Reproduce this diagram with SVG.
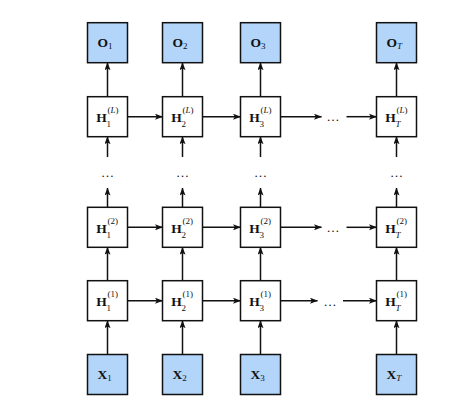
<svg xmlns="http://www.w3.org/2000/svg" width="460" height="408" viewBox="0 0 460 408">
<style>
.box{stroke:#111;stroke-width:1.5;}
.in{fill:#b3d5fa;}
.hid{fill:#ffffff;}
.cn line{stroke:#111;stroke-width:1.5;}
text{font-family:"Liberation Serif","Times New Roman",serif;fill:#111;}
.m{font-size:13.5px;font-weight:bold;}
.s{font-size:9px;}
.i{font-style:italic;}
.d{font-size:13px;text-anchor:middle;}
</style>
<defs>
<marker id="ah" viewBox="0 0 8 6" refX="7.5" refY="3" markerWidth="8" markerHeight="6" markerUnits="userSpaceOnUse" orient="auto">
<path d="M0,0 L8,3 L0,6 L1.8,3 z" fill="#111"/>
</marker>
</defs>
<rect width="460" height="408" fill="#ffffff"/>

<g id="connectors" class="cn">
<line x1="107.5" y1="96.7" x2="107.5" y2="62.7" marker-end="url(#ah)"/>
<line x1="182.5" y1="96.7" x2="182.5" y2="62.7" marker-end="url(#ah)"/>
<line x1="260.5" y1="96.7" x2="260.5" y2="62.7" marker-end="url(#ah)"/>
<line x1="396.5" y1="96.7" x2="396.5" y2="62.7" marker-end="url(#ah)"/>
<line x1="107.5" y1="157" x2="107.5" y2="136.7" marker-end="url(#ah)"/>
<line x1="182.5" y1="157" x2="182.5" y2="136.7" marker-end="url(#ah)"/>
<line x1="260.5" y1="157" x2="260.5" y2="136.7" marker-end="url(#ah)"/>
<line x1="396.5" y1="157" x2="396.5" y2="136.7" marker-end="url(#ah)"/>
<line x1="107.5" y1="207.3" x2="107.5" y2="188" marker-end="url(#ah)"/>
<line x1="182.5" y1="207.3" x2="182.5" y2="188" marker-end="url(#ah)"/>
<line x1="260.5" y1="207.3" x2="260.5" y2="188" marker-end="url(#ah)"/>
<line x1="396.5" y1="207.3" x2="396.5" y2="188" marker-end="url(#ah)"/>
<line x1="107.5" y1="280.7" x2="107.5" y2="247.3" marker-end="url(#ah)"/>
<line x1="182.5" y1="280.7" x2="182.5" y2="247.3" marker-end="url(#ah)"/>
<line x1="260.5" y1="280.7" x2="260.5" y2="247.3" marker-end="url(#ah)"/>
<line x1="396.5" y1="280.7" x2="396.5" y2="247.3" marker-end="url(#ah)"/>
<line x1="107.5" y1="354.5" x2="107.5" y2="320.7" marker-end="url(#ah)"/>
<line x1="182.5" y1="354.5" x2="182.5" y2="320.7" marker-end="url(#ah)"/>
<line x1="260.5" y1="354.5" x2="260.5" y2="320.7" marker-end="url(#ah)"/>
<line x1="396.5" y1="354.5" x2="396.5" y2="320.7" marker-end="url(#ah)"/>
<line x1="127.5" y1="116.7" x2="162.5" y2="116.7" marker-end="url(#ah)"/>
<line x1="202.5" y1="116.7" x2="240.5" y2="116.7" marker-end="url(#ah)"/>
<line x1="280.5" y1="116.7" x2="321.5" y2="116.7" marker-end="url(#ah)"/>
<line x1="346.5" y1="116.7" x2="376.5" y2="116.7" marker-end="url(#ah)"/>
<line x1="127.5" y1="227.3" x2="162.5" y2="227.3" marker-end="url(#ah)"/>
<line x1="202.5" y1="227.3" x2="240.5" y2="227.3" marker-end="url(#ah)"/>
<line x1="280.5" y1="227.3" x2="321.5" y2="227.3" marker-end="url(#ah)"/>
<line x1="346.5" y1="227.3" x2="376.5" y2="227.3" marker-end="url(#ah)"/>
<line x1="127.5" y1="300.7" x2="162.5" y2="300.7" marker-end="url(#ah)"/>
<line x1="202.5" y1="300.7" x2="240.5" y2="300.7" marker-end="url(#ah)"/>
<line x1="280.5" y1="300.7" x2="317.5" y2="300.7" marker-end="url(#ah)"/>
<line x1="343" y1="300.7" x2="376.5" y2="300.7" marker-end="url(#ah)"/>
</g>

<g id="dots">
<text class="d" x="333" y="121">…</text>
<text class="d" x="333" y="232">…</text>
<text class="d" x="330" y="305.5">…</text>
<text class="d" x="107.5" y="177">…</text>
<text class="d" x="182.5" y="177">…</text>
<text class="d" x="260.5" y="177">…</text>
<text class="d" x="396.5" y="177">…</text>
</g>

<g id="O1"><rect class="box in" x="87.5" y="22.7" width="40" height="40"/>
<text x="97.5" y="46.8"><tspan class="m">O</tspan><tspan class="s" dy="2.5">1</tspan></text></g>
<g id="O2"><rect class="box in" x="162.5" y="22.7" width="40" height="40"/>
<text x="172.5" y="46.8"><tspan class="m">O</tspan><tspan class="s" dy="2.5">2</tspan></text></g>
<g id="O3"><rect class="box in" x="240.5" y="22.7" width="40" height="40"/>
<text x="250.5" y="46.8"><tspan class="m">O</tspan><tspan class="s" dy="2.5">3</tspan></text></g>
<g id="OT"><rect class="box in" x="376.5" y="22.7" width="40" height="40"/>
<text x="386.5" y="46.8"><tspan class="m">O</tspan><tspan class="s i" dy="2.5">T</tspan></text></g>

<g id="HL1"><rect class="box hid" x="87.5" y="96.7" width="40" height="40"/>
<text class="m" x="96.3" y="122.3">H</text><text class="s" x="106.6" y="127.3">1</text><text class="s" x="107.6" y="113">(<tspan class="i">L</tspan>)</text></g>
<g id="HL2"><rect class="box hid" x="162.5" y="96.7" width="40" height="40"/>
<text class="m" x="171.3" y="122.3">H</text><text class="s" x="181.6" y="127.3">2</text><text class="s" x="182.6" y="113">(<tspan class="i">L</tspan>)</text></g>
<g id="HL3"><rect class="box hid" x="240.5" y="96.7" width="40" height="40"/>
<text class="m" x="249.3" y="122.3">H</text><text class="s" x="259.6" y="127.3">3</text><text class="s" x="260.6" y="113">(<tspan class="i">L</tspan>)</text></g>
<g id="HLT"><rect class="box hid" x="376.5" y="96.7" width="40" height="40"/>
<text class="m" x="385.3" y="122.3">H</text><text class="s i" x="395.6" y="127.3">T</text><text class="s" x="396.6" y="113">(<tspan class="i">L</tspan>)</text></g>

<g id="H21"><rect class="box hid" x="87.5" y="207.3" width="40" height="40"/>
<text class="m" x="96.3" y="232.9">H</text><text class="s" x="106.6" y="237.9">1</text><text class="s" x="107.6" y="223.6">(2)</text></g>
<g id="H22"><rect class="box hid" x="162.5" y="207.3" width="40" height="40"/>
<text class="m" x="171.3" y="232.9">H</text><text class="s" x="181.6" y="237.9">2</text><text class="s" x="182.6" y="223.6">(2)</text></g>
<g id="H23"><rect class="box hid" x="240.5" y="207.3" width="40" height="40"/>
<text class="m" x="249.3" y="232.9">H</text><text class="s" x="259.6" y="237.9">3</text><text class="s" x="260.6" y="223.6">(2)</text></g>
<g id="H2T"><rect class="box hid" x="376.5" y="207.3" width="40" height="40"/>
<text class="m" x="385.3" y="232.9">H</text><text class="s i" x="395.6" y="237.9">T</text><text class="s" x="396.6" y="223.6">(2)</text></g>

<g id="H11"><rect class="box hid" x="87.5" y="280.7" width="40" height="40"/>
<text class="m" x="96.3" y="306.3">H</text><text class="s" x="106.6" y="311.3">1</text><text class="s" x="107.6" y="297">(1)</text></g>
<g id="H12"><rect class="box hid" x="162.5" y="280.7" width="40" height="40"/>
<text class="m" x="171.3" y="306.3">H</text><text class="s" x="181.6" y="311.3">2</text><text class="s" x="182.6" y="297">(1)</text></g>
<g id="H13"><rect class="box hid" x="240.5" y="280.7" width="40" height="40"/>
<text class="m" x="249.3" y="306.3">H</text><text class="s" x="259.6" y="311.3">3</text><text class="s" x="260.6" y="297">(1)</text></g>
<g id="H1T"><rect class="box hid" x="376.5" y="280.7" width="40" height="40"/>
<text class="m" x="385.3" y="306.3">H</text><text class="s i" x="395.6" y="311.3">T</text><text class="s" x="396.6" y="297">(1)</text></g>

<g id="X1"><rect class="box in" x="87.5" y="354.5" width="40" height="40"/>
<text x="97.5" y="378.8"><tspan class="m">X</tspan><tspan class="s" dy="2.5">1</tspan></text></g>
<g id="X2"><rect class="box in" x="162.5" y="354.5" width="40" height="40"/>
<text x="172.5" y="378.8"><tspan class="m">X</tspan><tspan class="s" dy="2.5">2</tspan></text></g>
<g id="X3"><rect class="box in" x="240.5" y="354.5" width="40" height="40"/>
<text x="250.5" y="378.8"><tspan class="m">X</tspan><tspan class="s" dy="2.5">3</tspan></text></g>
<g id="XT"><rect class="box in" x="376.5" y="354.5" width="40" height="40"/>
<text x="386.5" y="378.8"><tspan class="m">X</tspan><tspan class="s i" dy="2.5">T</tspan></text></g>
</svg>
